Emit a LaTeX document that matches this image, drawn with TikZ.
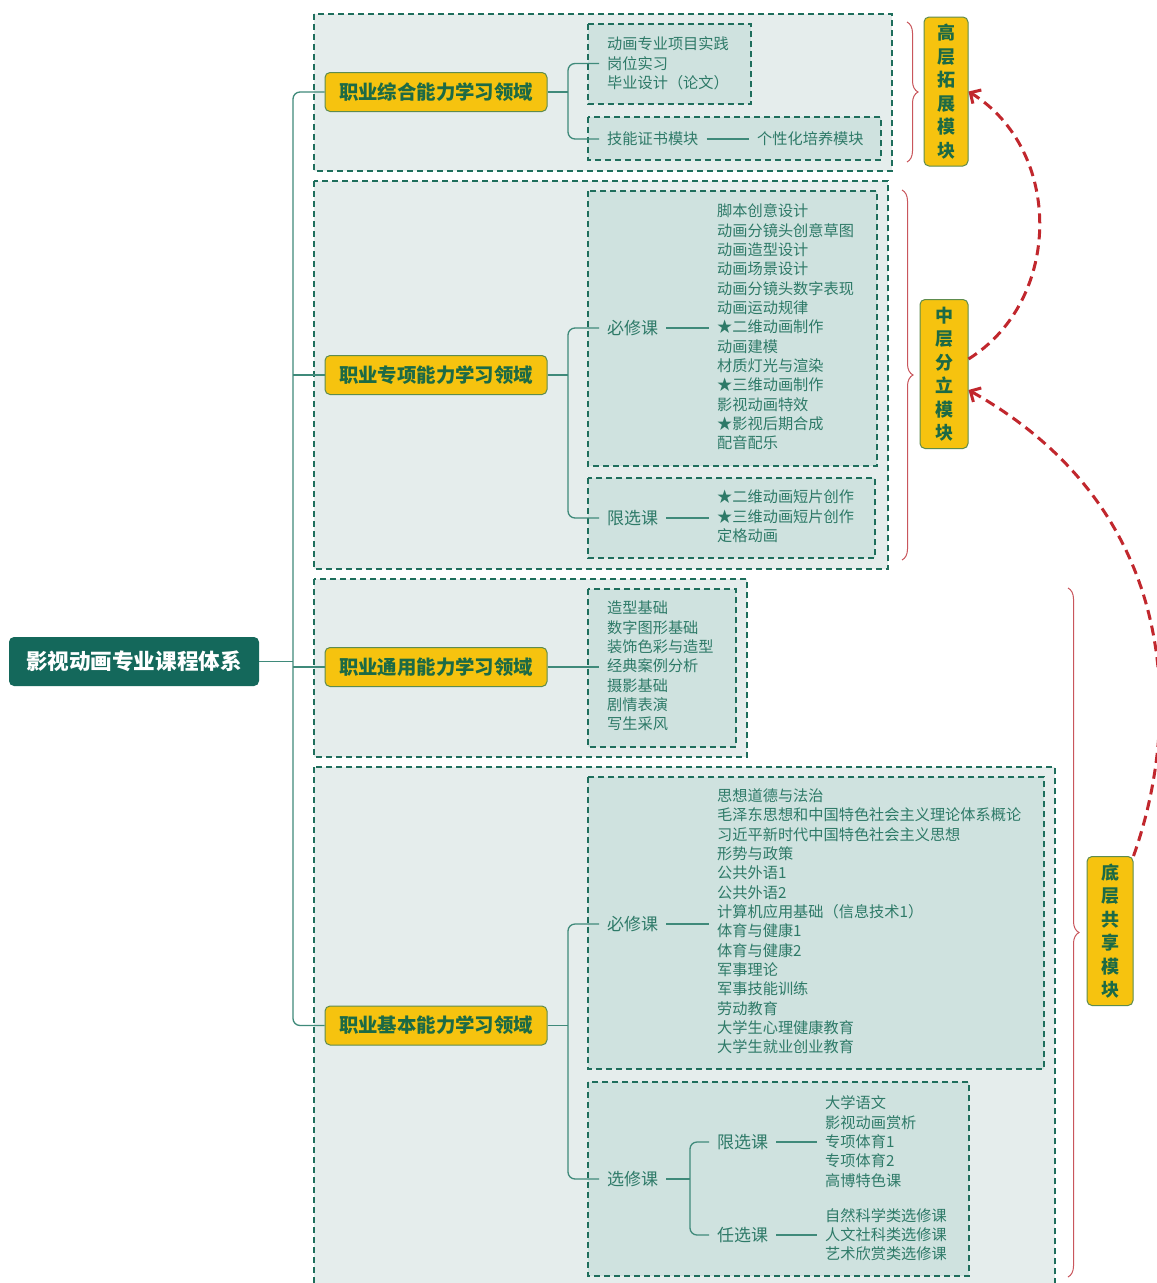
\documentclass[tikz,border=0pt]{standalone}
\usepackage{fontspec}
\setmainfont{Noto Sans CJK SC}
\usetikzlibrary{arrows.meta,decorations.pathreplacing}
\definecolor{boxline}{HTML}{1E6E5C}
\definecolor{outerfill}{HTML}{E5EDEC}
\definecolor{innerfill}{HTML}{CFE2DF}
\definecolor{listtext}{HTML}{2E7A68}
\definecolor{titletext}{HTML}{1C6A45}
\definecolor{gold}{HTML}{F6C30F}
\definecolor{goldline}{HTML}{5E8C4E}
\definecolor{maingreen}{HTML}{14685B}
\definecolor{connline}{HTML}{3F8A7A}
\definecolor{bracered}{HTML}{C9565C}
\definecolor{arrowred}{HTML}{C1272D}
\tikzset{
 outerbox/.style={draw=boxline, fill=outerfill, line width=2pt, dash pattern=on 6pt off 4pt},
 innerbox/.style={draw=boxline, fill=innerfill, line width=2pt, dash pattern=on 6pt off 4pt},
 area/.style={draw=goldline, fill=gold, line width=1pt, rounded corners=5pt, minimum width=222pt, minimum height=39pt, inner sep=0pt, text=titletext, font=\fontsize{19.4}{22}\selectfont\bfseries},
 mainnode/.style={fill=maingreen, rounded corners=5pt, minimum width=250pt, minimum height=49pt, inner sep=0pt, text=white, font=\fontsize{21.6}{24}\selectfont\bfseries},
 tier/.style={draw=goldline, fill=gold, line width=1pt, rounded corners=5pt, minimum height=149pt, inner sep=0pt, align=center, text=titletext, font=\fontsize{18}{23.5}\selectfont\bfseries},
 tag/.style={anchor=west, inner xsep=8pt, inner ysep=2pt, text=listtext, font=\fontsize{17}{20}\selectfont},
 courses/.style={anchor=west, inner xsep=8pt, inner ysep=0pt, align=left, text=listtext, font=\fontsize{15.2}{19.33}\selectfont},
 conn/.style={draw=connline, line width=1.3pt, rounded corners=7pt},
 bracket/.style={draw=bracered, line width=1pt, decorate, decoration={brace, amplitude=11pt}},
 jump/.style={draw=arrowred, line width=3pt, dash pattern=on 10pt off 6pt, -{Straight Barb[length=8pt,width=16pt]}}
}
\begin{document}
\begin{tikzpicture}[x=1pt,y=-1pt]
\useasboundingbox (0,0) rectangle (1157,1283);
\clip (0,0) rectangle (1157,1283);
\fill[white] (0,0) rectangle (1157,1283);
% outer boxes
\draw[outerbox] (314,14) rectangle (892,171);
\draw[outerbox] (314,181) rectangle (888,569);
\draw[outerbox] (314,579) rectangle (747,757);
\draw[outerbox] (314,767) rectangle (1055,1295);
% inner boxes
\draw[innerbox] (588,24) rectangle (751,104);
\draw[innerbox] (588,117) rectangle (881,160);
\draw[innerbox] (588,191) rectangle (877,466);
\draw[innerbox] (588,478) rectangle (875,558);
\draw[innerbox] (588,589) rectangle (736,747);
\draw[innerbox] (588,777) rectangle (1044,1069);
\draw[innerbox] (588,1082) rectangle (969,1276);
% main nodes
\node[mainnode] (root) at (134,661.5) {影视动画专业课程体系};
\node[area] (a1) at (436,92) {职业综合能力学习领域};
\node[area] (a2) at (436,375) {职业专项能力学习领域};
\node[area] (a3) at (436,667) {职业通用能力学习领域};
\node[area] (a4) at (436,1025.5) {职业基本能力学习领域};
% area 1
\node[courses] (c1) at (599,63.5) {动画专业项目实践\\岗位实习\\毕业设计（论文）};
\node[courses] (k1) at (599,139) {技能证书模块};
\node[courses] (k2) at (749,139) {个性化培养模块};
% area 2
\node[tag] (b2) at (599,328) {必修课};
\node[courses] (c2) at (709,327) {脚本创意设计\\动画分镜头创意草图\\动画造型设计\\动画场景设计\\动画分镜头数字表现\\动画运动规律\\★二维动画制作\\动画建模\\材质灯光与渲染\\★三维动画制作\\影视动画特效\\★影视后期合成\\配音配乐};
\node[tag] (x2) at (599,518) {限选课};
\node[courses] (c2b) at (709,516.5) {★二维动画短片创作\\★三维动画短片创作\\定格动画};
% area 3
\node[courses] (c3) at (599,666) {造型基础\\数字图形基础\\装饰色彩与造型\\经典案例分析\\摄影基础\\剧情表演\\写生采风};
% area 4
\node[tag] (b4) at (599,924) {必修课};
\node[courses] (c4) at (709,921.5) {思想道德与法治\\毛泽东思想和中国特色社会主义理论体系概论\\习近平新时代中国特色社会主义思想\\形势与政策\\公共外语1\\公共外语2\\计算机应用基础（信息技术1）\\体育与健康1\\体育与健康2\\军事理论\\军事技能训练\\劳动教育\\大学生心理健康教育\\大学生就业创业教育};
\node[tag] (e4) at (599,1179) {选修课};
\node[tag] (x4) at (709,1142) {限选课};
\node[courses] (c4x) at (817,1141.5) {大学语文\\影视动画赏析\\专项体育1\\专项体育2\\高博特色课};
\node[tag] (r4) at (709,1235) {任选课};
\node[courses] (c4r) at (817,1234.5) {自然科学类选修课\\人文社科类选修课\\艺术欣赏类选修课};
% tiers
\node[tier, minimum width=44pt] (h) at (946,91.5) {高\\层\\拓\\展\\模\\块};
\node[tier, minimum width=48pt] (m) at (944,374) {中\\层\\分\\立\\模\\块};
\node[tier, minimum width=46pt] (d) at (1110,931) {底\\层\\共\\享\\模\\块};
% trunk
\coordinate (trunk) at (293,661.5);
\draw[conn] (a1.west) -| (trunk) |- (a4.west);
\draw[conn] (root.east) -- (trunk);
\draw[conn] (a2.west) -- (a2.west -| trunk);
\draw[conn] (a3.west) -- (a3.west -| trunk);
% area 1 connectors
\coordinate (j1) at (568,92);
\draw[conn] (a1.east) -- (j1);
\draw[conn] (c1.west) -| (j1) |- (k1.west);
\draw[conn] (k1.east) -- (k2.west);
% area 2 connectors
\coordinate (j2) at (568,375);
\draw[conn] (a2.east) -- (j2);
\draw[conn] (b2.west) -| (j2) |- (x2.west);
\draw[conn] (b2.east) -- (b2.east -| c2.west);
\draw[conn] (x2.east) -- (x2.east -| c2b.west);
% area 3 connector
\draw[conn] (a3.east) -- (a3.east -| c3.west);
% area 4 connectors
\coordinate (j4) at (568,1025.5);
\draw[conn] (a4.east) -- (j4);
\draw[conn] (b4.west) -| (j4) |- (e4.west);
\draw[conn] (b4.east) -- (b4.east -| c4.west);
\coordinate (j5) at (690,1179);
\draw[conn] (e4.east) -- (j5);
\draw[conn] (x4.west) -| (j5) |- (r4.west);
\draw[conn] (x4.east) -- (x4.east -| c4x.west);
\draw[conn] (r4.east) -- (r4.east -| c4r.west);
% braces
\draw[bracket] (907,22) -- (907,162);
\draw[bracket] (902,190) -- (902,560);
\draw[bracket] (1068,588) -- (1068,1277);
% red arrows
\coordinate (m1) at ([yshift=15pt]m.east);
\coordinate (m2) at ([yshift=-16pt]m.east);
\draw[jump] (m1) .. controls (1063,300) and (1063,150) .. (h.east);
\draw[jump] (d.north east) .. controls (1182,720) and (1182,510) .. (m2);
\end{tikzpicture}
\end{document}
